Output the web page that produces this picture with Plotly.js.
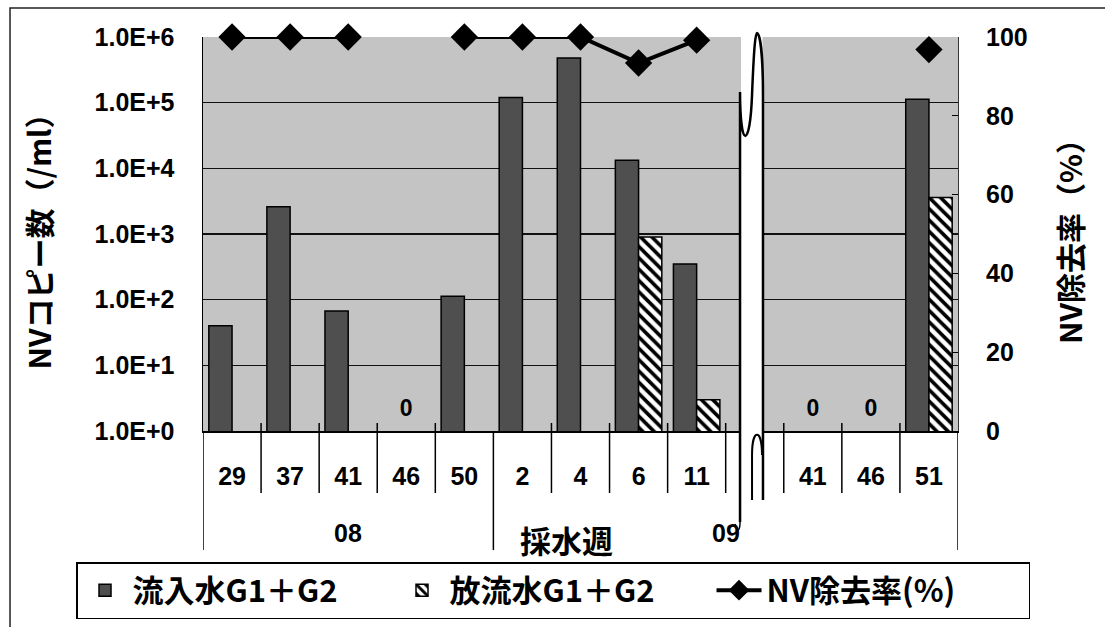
<!DOCTYPE html>
<html>
<head>
<meta charset="utf-8">
<script src="https://cdn.plot.ly/plotly-3.0.1.min.js"></script>
<style>html,body{margin:0;padding:0;background:#fff;}#chart{width:1105px;height:627px;}</style>
</head>
<body>
<div id="chart"></div>
<script>
// ---- data ----
const years = ['08','08','08','08','08','09','09','09','09','09','09','09','09'];
const weeks = ['29','37','41','46','50','2','4','6','11',' ','41','46','51'];
const influent = [40, 2600, 67, null, 113, 120000, 480000, 13300, 350, null, null, null, 113000];
const effluent = [null, null, null, null, null, null, null, 900, 3, null, null, null, 3600];
const removal = [100, 100, 100, null, 100, 100, 100, 93.4, 99.2, null, null, null, 96.8];
const zeroYears = ['08','09','09'];
const zeroWeeks = ['46','41','46'];
const zeroText = ['0','0','0'];
const yTickVals = [1, 10, 100, 1000, 10000, 100000, 1000000];
const yTickText = ['1.0E+0','1.0E+1','1.0E+2','1.0E+3','1.0E+4','1.0E+5','1.0E+6'];
const seriesNames = ['流入水G1＋G2', '放流水G1＋G2', 'NV除去率(%)'];

const FONT = 'Liberation Sans, Arial, Noto Sans CJK JP, sans-serif';
const CJK = 'Noto Sans CJK JP, Liberation Sans, sans-serif';

// unique category keys (year + week) shown with week tick text
const key = (y, w) => y + '-' + w;
const xKeys = years.map((y, i) => key(y, weeks[i]));
const zeroKeys = zeroYears.map((y, i) => key(y, zeroWeeks[i]));

// plot area in pixels (for decorative shapes)
const L = 203, R = 958, T = 37, B = 431;
const W = R - L, H = B - T;
const px = x => +((x - L) / W).toFixed(4);
const py = y => +((B - y) / H).toFixed(4);
const P = (x, y) => px(x) + ',' + py(y);

const traces = [
  {
    type: 'bar', name: seriesNames[0], x: xKeys, y: influent,
    marker: {color: '#4f4f4f', line: {color: '#000', width: 1.5}},
    yaxis: 'y'
  },
  {
    type: 'bar', name: seriesNames[1], x: xKeys, y: effluent,
    marker: {color: '#ffffff', line: {color: '#000', width: 1.5},
      pattern: {shape: '\\', fgcolor: '#000', bgcolor: '#fff', size: 8, solidity: 0.45}},
    yaxis: 'y'
  },
  {
    type: 'scatter', mode: 'lines+markers', name: seriesNames[2], x: xKeys, y: removal,
    yaxis: 'y2', connectgaps: false, cliponaxis: false,
    line: {color: '#000', width: 4},
    marker: {symbol: 'diamond', size: 21, color: '#000'}
  },
  {
    type: 'scatter', mode: 'text', x: zeroKeys, y: zeroText.map(() => 2.1),
    text: zeroText, textposition: 'middle center', showlegend: false, yaxis: 'y',
    textfont: {family: FONT, size: 23, color: '#000', weight: 'bold'}
  }
];

const shapes = [
  // outer frame
  {type: 'rect', xref: 'paper', yref: 'paper', x0: px(10), y0: py(8), x1: px(1120), y1: py(650),
   line: {color: '#222', width: 1.5}, fillcolor: 'rgba(0,0,0,0)', layer: 'below'}
];
// category dividers below the axis
for (let i = 0; i <= xKeys.length; i++) {
  const isYear = i === 0 || i === xKeys.length || years[i] !== years[i - 1];
  shapes.push({type: 'line', xref: 'x', yref: 'paper', x0: i - 0.5, x1: i - 0.5,
    y0: py(isYear ? 431 : 423), y1: py(isYear ? 550 : 493),
    line: {color: '#000', width: 1.5}, layer: 'above'});
}
// year labels, centred on their groups
const annotations = [];
const yearList = [...new Set(years)];
yearList.forEach(yr => {
  const idx = years.map((v, i) => v === yr ? i : -1).filter(i => i >= 0);
  const c = (idx[0] + idx[idx.length - 1]) / 2;
  annotations.push({xref: 'x', yref: 'paper', x: c, y: py(533), text: yr, showarrow: false,
    xanchor: 'center', yanchor: 'middle',
    font: {family: FONT, size: 25, color: '#000', weight: 'bold'}});
});
annotations.push({xref: 'paper', yref: 'paper', x: px(566), y: py(540), text: '採水週', showarrow: false,
  xanchor: 'center', yanchor: 'middle',
  font: {family: CJK, size: 31, color: '#000', weight: 'bold'}});

// axis break symbol
shapes.push(
  {type: 'rect', xref: 'paper', yref: 'paper', x0: px(741), x1: px(762.5), y0: py(34), y1: py(500),
   line: {width: 0}, fillcolor: '#ffffff', layer: 'above'},
  {type: 'path', xref: 'paper', yref: 'paper', layer: 'above',
   path: 'M ' + P(740, 522) + ' L ' + P(740, 92) +
         ' C ' + P(740, 150) + ' ' + P(750, 150) + ' ' + P(752, 95) +
         ' C ' + P(754, 45) + ' ' + P(755.5, 33) + ' ' + P(757, 33) +
         ' C ' + P(760, 33) + ' ' + P(763, 55) + ' ' + P(763, 95) +
         ' L ' + P(763, 500),
   line: {color: '#000', width: 2.5}},
  {type: 'path', xref: 'paper', yref: 'paper', layer: 'above',
   path: 'M ' + P(752, 500) + ' L ' + P(752, 455) +
         ' C ' + P(752, 428) + ' ' + P(762, 428) + ' ' + P(762, 455),
   line: {color: '#000', width: 2}},
  {type: 'path', xref: 'paper', yref: 'paper', layer: 'above',
   path: 'M ' + P(740, 522) + ' C ' + P(740, 532) + ' ' + P(737, 532) + ' ' + P(735, 524),
   line: {color: '#000', width: 1.5}}
);

const layout = {
  width: 1105, height: 627,
  margin: {l: L, r: 1105 - R, t: T, b: 627 - B, pad: 0, autoexpand: false},
  paper_bgcolor: '#ffffff', plot_bgcolor: '#c4c4c4',
  barmode: 'group', bargap: 0.2, bargroupgap: 0,
  font: {family: FONT, size: 24, color: '#000', weight: 'bold'},
  showlegend: true,
  legend: {orientation: 'h', x: px(76), xanchor: 'left', y: py(562), yanchor: 'top',
    bordercolor: '#000', borderwidth: 1.5, bgcolor: '#fff', entrywidth: 257,
    itemwidth: 45,
    font: {family: CJK, size: 31, color: '#000', weight: 'bold'}, traceorder: 'normal'},
  xaxis: {
    type: 'category', tickvals: xKeys, ticktext: weeks, range: [-0.5, xKeys.length - 0.5],
    showgrid: false, zeroline: false,
    showline: true, linecolor: '#000', linewidth: 1.5, ticks: '',
    ticklabelstandoff: 22,
    tickfont: {family: FONT, size: 25, color: '#000', weight: 'bold'}
  },
  yaxis: {
    type: 'log', range: [0, 6], tickvals: yTickVals, ticktext: yTickText,
    showgrid: true, gridcolor: '#111', gridwidth: 1.5,
    showline: true, linecolor: '#000', linewidth: 1.5, ticks: '',
    zeroline: false, ticklabelstandoff: 22,
    tickfont: {family: FONT, size: 25, color: '#000', weight: 'bold'},
    title: {text: 'NVコピー数（/ml）', standoff: 34, font: {family: CJK, size: 30, color: '#000', weight: 'bold'}}
  },
  yaxis2: {
    overlaying: 'y', side: 'right', range: [0, 100], dtick: 20,
    showgrid: false, zeroline: false, showline: true, linecolor: '#333', linewidth: 1,
    ticks: 'inside', ticklen: 6, tickcolor: '#000', ticklabelstandoff: 22,
    tickfont: {family: FONT, size: 25, color: '#000', weight: 'bold'},
    title: {text: 'NV除去率（%）', standoff: 34, font: {family: CJK, size: 30, color: '#000', weight: 'bold'}}
  },
  annotations: annotations,
  shapes: shapes
};

Plotly.newPlot('chart', traces, layout, {displayModeBar: false, staticPlot: true});
</script>
</body>
</html>
